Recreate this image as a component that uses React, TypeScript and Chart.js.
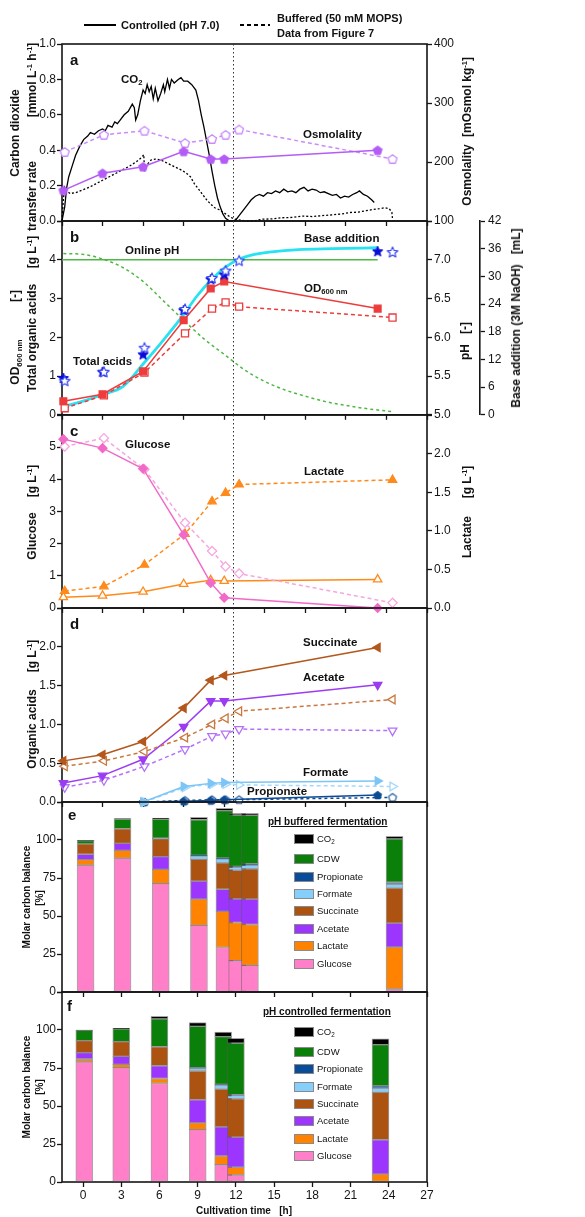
import React, { useEffect, useRef } from 'react';
import { Chart, registerables } from 'chart.js';

Chart.register(...registerables);

const FONT = '"Liberation Sans", Arial, Helvetica, sans-serif';
const INK = '#151515';

// ---- sampling times [h] ----
const T_CTRL = [0.1, 3, 6, 9, 11, 12, 23.35];
const T_BUF = [0.2, 3.1, 6.1, 9.1, 11.1, 12.1, 13.1, 24.45];
const MARK_T = 12.65;

// ---- tick values ----
const TIME_TICKS = [0, 3, 6, 9, 12, 15, 18, 21, 24, 27];
const CTR_TICKS = [0, 0.2, 0.4, 0.6, 0.8, 1.0];
const OSMO_TICKS = [100, 200, 300, 400];
const OD_TICKS = [0, 1, 2, 3, 4, 5];
const PH_TICKS = [5.0, 5.5, 6.0, 6.5, 7.0, 7.5];
const BASE_TICKS = [0, 6, 12, 18, 24, 30, 36, 42];
const GLC_TICKS = [0, 1, 2, 3, 4, 5, 6];
const LAC_TICKS = [0, 0.5, 1.0, 1.5, 2.0, 2.5];
const ACID_TICKS = [0, 0.5, 1.0, 1.5, 2.0, 2.5];
const BAL_TICKS = [0, 25, 50, 75, 100, 125];

// ---- (a) carbon dioxide transfer rate [mmol L-1 h-1] ----
const CO2_CTRL_T = [0, 0.2, 0.35, 0.5, 0.75, 1.0, 1.3, 1.6, 1.9, 2.1, 2.4, 2.7, 3.0, 3.2, 3.4, 3.7, 3.9, 4.1, 4.3, 4.6, 4.9, 5.2, 5.35, 5.45, 5.6, 5.8, 6.0, 6.15, 6.3, 6.45, 6.6, 6.75, 6.9, 7.1, 7.3, 7.5, 7.6, 7.8, 7.95, 8.1, 8.3, 8.6, 8.8, 9.0, 9.3, 9.6, 9.9, 10.1, 10.3, 10.5, 10.7, 10.9, 11.1, 11.3, 11.5, 11.7, 11.9, 12.1, 12.4, 12.7, 12.9, 13.1, 13.4, 13.7, 14.0, 14.3, 14.6, 14.9, 15.2, 15.5, 15.8, 16.1, 16.4, 16.7, 17.0, 17.3, 17.6, 17.9, 18.2, 18.5, 18.8, 19.1, 19.4, 19.7, 20.0, 20.3, 20.6, 20.9, 21.2, 21.5, 21.8, 22.0, 22.3, 22.6, 22.9, 23.1];
const CO2_CTRL = [0, 0.08, 0.19, 0.25, 0.31, 0.37, 0.42, 0.46, 0.48, 0.5, 0.49, 0.51, 0.52, 0.51, 0.54, 0.53, 0.56, 0.55, 0.57, 0.6, 0.62, 0.66, 0.64, 0.57, 0.6, 0.68, 0.74, 0.72, 0.77, 0.73, 0.76, 0.69, 0.75, 0.68, 0.72, 0.77, 0.73, 0.8, 0.75, 0.8, 0.78, 0.8, 0.81, 0.79, 0.79, 0.77, 0.74, 0.68, 0.6, 0.53, 0.45, 0.37, 0.28, 0.2, 0.13, 0.08, 0.04, 0.015, 0.0, 0.0, 0.01, 0.03, 0.06, 0.09, 0.12, 0.14, 0.15, 0.14, 0.16, 0.155, 0.17, 0.16, 0.18, 0.165, 0.17, 0.16, 0.18, 0.19, 0.17, 0.18, 0.175, 0.16, 0.165, 0.155, 0.145, 0.15, 0.13, 0.14, 0.135, 0.15, 0.16, 0.17, 0.15, 0.14, 0.12, 0.105];
const CO2_BUF_T = [0, 0.1, 0.2, 0.35, 0.6, 1.0, 1.5, 2.0, 2.5, 3.0, 3.5, 4.0, 4.5, 5.0, 5.5, 5.9, 6.05, 6.1, 6.3, 6.6, 6.9, 7.3, 7.7, 8.1, 8.5, 8.9, 9.2, 9.5, 9.8, 10.1, 10.4, 10.7, 11.0, 11.3, 11.6, 11.9, 12.2, 12.5, 12.8, 13.2, 13.6, 14.2, 14.8, 15.5, 16.2, 17.0, 17.8, 18.5, 19.2, 20.0, 20.7, 21.3, 21.9, 22.5, 23.0, 23.5, 23.9, 24.2, 24.4, 24.45];
const CO2_BUF = [0, 0.12, 0.19, 0.17, 0.155, 0.16, 0.175, 0.19, 0.21, 0.23, 0.25, 0.27, 0.29, 0.31, 0.335, 0.36, 0.375, 0.29, 0.32, 0.345, 0.35, 0.345, 0.33, 0.315, 0.3, 0.285, 0.27, 0.25, 0.21, 0.18, 0.15, 0.12, 0.095, 0.075, 0.065, 0.05, 0.035, 0.02, 0.01, 0.005, 0, 0, 0.01, 0.012, 0.018, 0.02, 0.028, 0.025, 0.03, 0.035, 0.04, 0.048, 0.05, 0.058, 0.065, 0.07, 0.075, 0.07, 0.05, 0.01];

// ---- (a) osmolality [mOsmol kg-1] ----
const OSMO_CTRL = [152, 181, 192, 218, 205, 205, 220];
const OSMO_BUF = [217, 246, 253, 232, 239, 246, 255, 205];

// ---- (b) OD600, total organic acids, base addition, pH ----
const OD_CTRL = [0.35, 0.53, 1.12, 2.44, 3.26, 3.44, 2.74];
const OD_BUF = [0.17, 0.5, 1.09, 2.1, 2.74, 2.9, 2.79, 2.51];
const ACIDS_CTRL = [0.95, 1.11, 1.56, 2.7, 3.5, 3.62, 4.22];
const ACIDS_BUF = [0.88, 1.11, 1.73, 2.73, 3.53, 3.72, 3.98, 4.2];
const BASE_T = [0.1, 1.5, 3, 4.5, 6, 7.5, 9, 10, 11, 12, 13, 14, 15.5, 17.5, 20, 23.35];
const BASE_ML = [1.8, 2.9, 4.4, 6.1, 11.0, 16.2, 21.7, 25.8, 29.1, 31.8, 33.6, 34.6, 35.3, 35.8, 36.0, 36.2];
const ONLINE_PH_T = [0, 23.35];
const ONLINE_PH = [7.0, 7.0];
const PH_BUF_T = [0.1, 1.5, 3, 4.5, 6, 7.5, 9, 10.5, 12, 13.5, 15, 16.5, 18, 19.5, 21, 22.5, 24.45];
const PH_BUF = [7.08, 7.07, 7.01, 6.9, 6.72, 6.47, 6.22, 5.98, 5.78, 5.58, 5.43, 5.32, 5.24, 5.17, 5.12, 5.08, 5.04];

// ---- (c) glucose and lactate [g L-1] ----
const GLC_CTRL = [5.25, 4.97, 4.33, 2.28, 0.78, 0.32, 0.0];
const GLC_BUF = [5.02, 5.28, 4.31, 2.65, 1.77, 1.29, 1.07, 0.16];
const LAC_CTRL = [0.14, 0.16, 0.21, 0.31, 0.36, 0.35, 0.37];
const LAC_BUF = [0.22, 0.28, 0.56, 0.96, 1.38, 1.49, 1.6, 1.66];

// ---- (d) organic acids [g L-1] ----
const SUC_CTRL = [0.53, 0.61, 0.78, 1.21, 1.57, 1.63, 1.99];
const SUC_BUF = [0.46, 0.53, 0.65, 0.83, 1.0, 1.08, 1.17, 1.32];
const ACE_CTRL = [0.245, 0.34, 0.55, 0.97, 1.3, 1.3, 1.51];
const ACE_BUF = [0.19, 0.28, 0.46, 0.68, 0.85, 0.88, 0.94, 0.92];
const FOR_CTRL = [null, null, 0.0, 0.2, 0.24, 0.25, 0.27];
const FOR_BUF = [null, null, 0.0, 0.19, 0.23, 0.23, 0.22, 0.2];
const PRO_CTRL = [null, null, 0.0, 0.01, 0.02, 0.03, 0.09];
const PRO_BUF = [null, null, 0.0, 0.02, 0.03, 0.03, 0.03, 0.06];

// ---- (e) molar carbon balance, pH buffered [%] ----
const BAL_BUF_GLUCOSE = [83.4, 88.0, 71.3, 43.8, 29.3, 20.6, 17.5, 2.0];
const BAL_BUF_LACTATE = [3.7, 5.2, 9.4, 17.3, 23.7, 25.1, 26.9, 27.5];
const BAL_BUF_ACETATE = [3.5, 4.6, 8.4, 11.8, 14.6, 15.6, 16.7, 15.8];
const BAL_BUF_SUCCINATE = [6.8, 9.6, 11.8, 14.4, 17.3, 18.8, 19.9, 23.0];
const BAL_BUF_FORMATE = [0, 0, 0.3, 2.2, 2.6, 2.0, 2.4, 2.6];
const BAL_BUF_PROPIONATE = [0, 0, 0, 0.4, 0.5, 0.6, 1.1, 1.3];
const BAL_BUF_CDW = [2.2, 6.4, 12.6, 23.4, 31.3, 33.7, 31.7, 28.5];
const BAL_BUF_CO2 = [0.2, 0.3, 0.6, 1.6, 1.5, 1.1, 1.3, 1.7];

// ---- (f) molar carbon balance, pH controlled [%] ----
const BAL_CTRL_GLUCOSE = [79.1, 75.2, 64.8, 34.5, 11.4, 4.6, 0];
const BAL_CTRL_LACTATE = [1.8, 2.2, 3.3, 4.4, 5.7, 5.1, 5.2];
const BAL_CTRL_ACETATE = [4.2, 5.2, 8.4, 15.2, 19.2, 19.8, 22.6];
const BAL_CTRL_SUCCINATE = [7.9, 9.7, 12.5, 18.9, 24.8, 25.2, 31.2];
const BAL_CTRL_FORMATE = [0, 0, 0, 1.7, 2.4, 2.2, 2.7];
const BAL_CTRL_PROPIONATE = [0, 0, 0, 0.5, 0.7, 0.5, 1.5];
const BAL_CTRL_CDW = [6.8, 8.4, 18.3, 27.2, 31.4, 34.0, 27.2];
const BAL_CTRL_CO2 = [0.2, 0.4, 1.7, 2.4, 3.1, 3.1, 3.8];

// ---- colours ----
const C_OSMO = '#b35cf6';
const C_OSMO_B = '#c98cfa';
const C_OD = '#ec3c3c';
const C_BASE = '#27e2f0';
const C_PH = '#4db843';
const C_STAR = '#0a0ad8';
const C_STAR_B = '#3040f2';
const C_GLC = '#f26ac7';
const C_GLC_B = '#f7a6de';
const C_LAC = '#ff8a1c';
const C_SUC = '#b3571c';
const C_SUC_B = '#c9783f';
const C_ACE = '#9b3cf2';
const C_ACE_B = '#b471f8';
const C_FOR = '#7cc5f6';
const C_FOR_B = '#a5d7fb';
const C_PRO = '#0d4a94';

const BAR_PARTS = [
  { key: 'Glucose', color: '#ff80c8' },
  { key: 'Lactate', color: '#ff8200' },
  { key: 'Acetate', color: '#9c36ff' },
  { key: 'Succinate', color: '#ad5311' },
  { key: 'Formate', color: '#86cffa' },
  { key: 'Propionate', color: '#0a4c98' },
  { key: 'CDW', color: '#0a7f0a' },
  { key: 'CO2', color: '#000000' },
];
const BAL_BUF = [BAL_BUF_GLUCOSE, BAL_BUF_LACTATE, BAL_BUF_ACETATE, BAL_BUF_SUCCINATE, BAL_BUF_FORMATE, BAL_BUF_PROPIONATE, BAL_BUF_CDW, BAL_BUF_CO2];
const BAL_CTRL = [BAL_CTRL_GLUCOSE, BAL_CTRL_LACTATE, BAL_CTRL_ACETATE, BAL_CTRL_SUCCINATE, BAL_CTRL_FORMATE, BAL_CTRL_PROPIONATE, BAL_CTRL_CDW, BAL_CTRL_CO2];

// ---- page geometry ----
const FIG_W = 585;
const FIG_H = 1217;
const PLOT_L = 62;
const PLOT_R = 427;
const RIGHT_W = FIG_W - PLOT_R;
const PAD_T = 12;
const BAR_X_MIN = -1.65;

const PANEL_A = { top: 44, bottom: 221, xh: 10 };
const PANEL_B = { top: 221, bottom: 415, xh: 10 };
const PANEL_C = { top: 415, bottom: 608, xh: 10 };
const PANEL_D = { top: 608, bottom: 802, xh: 10 };
const PANEL_E = { top: 802, bottom: 992, xh: 10 };
const PANEL_F = { top: 992, bottom: 1182, xh: 30 };

function canvasBox(p) {
  return { top: p.top - PAD_T, height: p.bottom - p.top + PAD_T + p.xh };
}

// ---- marker images ----
function polyMarker(kind, r, fill, stroke, lw) {
  const size = 2 * Math.ceil(r + lw + 1);
  const c = document.createElement('canvas');
  c.width = size;
  c.height = size;
  const g = c.getContext('2d');
  const cx = size / 2;
  const cy = size / 2;
  const n = kind === 'pentagon' ? 5 : 10;
  g.beginPath();
  for (let i = 0; i < n; i++) {
    const a = -Math.PI / 2 + (i * 2 * Math.PI) / n;
    const rr = kind === 'star' && i % 2 === 1 ? r * 0.45 : r;
    const px = cx + rr * Math.cos(a);
    const py = cy + rr * Math.sin(a) + (kind === 'pentagon' ? r * 0.1 : r * 0.08);
    if (i === 0) g.moveTo(px, py);
    else g.lineTo(px, py);
  }
  g.closePath();
  g.fillStyle = fill;
  g.fill();
  g.lineJoin = 'round';
  g.lineWidth = lw;
  g.strokeStyle = stroke;
  g.stroke();
  return c;
}

// ---- dataset helpers ----
function lineDs(ts, vs, o) {
  const data = [];
  ts.forEach((t, i) => {
    const v = vs[i];
    if (v !== null && v !== undefined) data.push({ x: t, y: v });
  });
  return {
    data,
    yAxisID: o.axis || 'y',
    borderColor: o.color,
    borderWidth: o.width ?? 1.5,
    borderDash: o.dash || [],
    pointStyle: o.marker || 'circle',
    pointRadius: o.radius ?? 0,
    pointRotation: o.rot ?? 0,
    pointBackgroundColor: o.fill ?? o.color,
    pointBorderColor: o.stroke ?? o.color,
    pointBorderWidth: o.pw ?? 1.3,
    fill: false,
    tension: 0,
    cubicInterpolationMode: o.smooth ? 'monotone' : 'default',
    clip: false,
    spanGaps: true,
  };
}

function barDatasets(times, parts) {
  // later sampling times first so that their bars are painted over earlier ones
  const sets = [];
  for (let i = times.length - 1; i >= 0; i--) {
    BAR_PARTS.forEach((p, k) => {
      const v = parts[k][i];
      sets.push({
        data: v > 0 ? [{ x: times[i], y: v }] : [],
        backgroundColor: p.color,
        borderColor: 'rgba(90,90,90,0.55)',
        borderWidth: 1,
        borderSkipped: false,
        barThickness: 17,
        grouped: false,
      });
    });
  }
  return sets;
}

// ---- axis helpers ----
function yAxis(o) {
  return {
    type: 'linear',
    position: o.position,
    min: o.min,
    max: o.max,
    weight: o.weight || 0,
    afterBuildTicks: (s) => {
      s.ticks = o.ticks.map((v) => ({ value: v }));
    },
    afterFit: (s) => {
      s.width = o.width;
    },
    ticks: {
      font: { family: FONT, size: 12 },
      color: INK,
      padding: o.pad ?? 1,
      callback: (v) => ((o.hide || []).includes(v) ? '' : o.fmt(v)),
    },
    grid: { display: true, drawOnChartArea: false, drawTicks: true, tickLength: 5, tickWidth: 1.3, tickColor: INK },
    border: { display: !!o.border, color: INK, width: 1.6 },
  };
}

function xAxis(min, max, labels, height) {
  return {
    type: 'linear',
    position: 'bottom',
    min,
    max,
    offset: false,
    afterBuildTicks: (s) => {
      s.ticks = TIME_TICKS.map((v) => ({ value: v }));
    },
    afterFit: (s) => {
      s.height = height;
    },
    ticks: {
      display: labels,
      autoSkip: false,
      maxRotation: 0,
      font: { family: FONT, size: 12 },
      color: INK,
      padding: 1,
      callback: (v) => String(v),
    },
    grid: { display: true, offset: false, drawOnChartArea: false, drawTicks: true, tickLength: 5, tickWidth: 1.3, tickColor: INK },
    border: { display: false },
  };
}

const framePlugin = {
  id: 'panelFrame',
  beforeDatasetsDraw(chart, _args, opts) {
    const { ctx, chartArea: a } = chart;
    ctx.save();
    ctx.strokeStyle = INK;
    ctx.lineWidth = 1.6;
    ctx.strokeRect(a.left, a.top, a.right - a.left, a.bottom - a.top);
    if (opts && typeof opts.markT === 'number') {
      const x = Math.round(chart.scales.x.getPixelForValue(opts.markT)) + 0.5;
      ctx.strokeStyle = '#333';
      ctx.lineWidth = 1;
      ctx.setLineDash([1.5, 2.5]);
      ctx.beginPath();
      ctx.moveTo(x, a.top);
      ctx.lineTo(x, a.bottom);
      ctx.stroke();
    }
    ctx.restore();
  },
};

function makeChart(canvas, type, datasets, scales, rightPad, markT) {
  return new Chart(canvas, {
    type,
    data: { datasets },
    options: {
      responsive: false,
      maintainAspectRatio: false,
      animation: false,
      events: [],
      layout: { padding: { top: PAD_T, left: 0, right: rightPad, bottom: 0 } },
      scales,
      plugins: {
        legend: { display: false },
        tooltip: { enabled: false },
        panelFrame: { markT },
      },
    },
    plugins: [framePlugin],
  });
}

const fmt1 = (v) => v.toFixed(1);
const fmt0 = (v) => String(Math.round(v));

// ---- text helpers ----
function Label({ x, y, size = 11.5, bold = true, rotate = false, center = false, underline = false, children }) {
  const style = {
    position: 'absolute',
    left: x,
    top: y,
    fontFamily: FONT,
    fontSize: size,
    fontWeight: bold ? 700 : 400,
    lineHeight: 1,
    whiteSpace: 'nowrap',
    color: '#111',
    textDecoration: underline ? 'underline' : 'none',
    transform: rotate ? 'translate(-50%, -50%) rotate(-90deg)' : center ? 'translate(-50%, -50%)' : 'translateY(-50%)',
  };
  return <div style={style}>{children}</div>;
}
const Sup = ({ children }) => <span style={{ fontSize: '0.62em', position: 'relative', top: '-0.55em' }}>{children}</span>;
const Sub = ({ children }) => <span style={{ fontSize: '0.66em', position: 'relative', top: '0.32em' }}>{children}</span>;

const E_LEGEND_Y = [839, 859, 876.5, 893.5, 911, 928.5, 946, 963.5];
const F_LEGEND_Y = [1031.5, 1051.5, 1069, 1086.5, 1104, 1121, 1138.5, 1156];

function BarLegend({ rows, titleX, titleY, title }) {
  const ordered = [...BAR_PARTS].reverse();
  return (
    <>
      <Label x={titleX} y={titleY} size={10} underline>
        {title}
      </Label>
      {ordered.map((p, i) => (
        <React.Fragment key={p.key}>
          <div
            style={{
              position: 'absolute',
              left: 294,
              top: rows[i] - 5,
              width: 20,
              height: 10,
              background: p.color,
              border: '1px solid #8a8a8a',
              boxSizing: 'border-box',
            }}
          />
          <Label x={317} y={rows[i]} size={9.5} bold={false}>
            {p.key === 'CO2' ? (
              <>
                CO<Sub>2</Sub>
              </>
            ) : (
              p.key
            )}
          </Label>
        </React.Fragment>
      ))}
    </>
  );
}

function PanelCanvas({ panel, cref }) {
  const b = canvasBox(panel);
  return (
    <canvas
      ref={cref}
      width={FIG_W}
      height={b.height}
      style={{ position: 'absolute', left: 0, top: b.top, width: FIG_W, height: b.height }}
    />
  );
}

export default function App() {
  const refA = useRef(null);
  const refB = useRef(null);
  const refC = useRef(null);
  const refD = useRef(null);
  const refE = useRef(null);
  const refF = useRef(null);

  useEffect(() => {
    const pentFill = polyMarker('pentagon', 4.5, C_OSMO, C_OSMO, 1.2);
    const pentOpen = polyMarker('pentagon', 4.7, '#ffffff', C_OSMO_B, 1.3);
    const starFill = polyMarker('star', 5.4, C_STAR, C_STAR, 1);
    const starOpen = polyMarker('star', 5.6, '#ffffff', C_STAR_B, 1.1);
    const proFill = polyMarker('pentagon', 4.0, C_PRO, C_PRO, 1.1);
    const proOpen = polyMarker('pentagon', 4.2, '#ffffff', C_PRO, 1.1);

    const charts = [];

    // (a) CO2 transfer rate and osmolality
    charts.push(
      makeChart(
        refA.current,
        'line',
        [
          lineDs(T_CTRL, OSMO_CTRL, { axis: 'yOsm', color: C_OSMO, marker: pentFill, radius: 5 }),
          lineDs(T_BUF, OSMO_BUF, { axis: 'yOsm', color: C_OSMO_B, dash: [4, 3], marker: pentOpen, radius: 5 }),
          lineDs(CO2_CTRL_T, CO2_CTRL, { color: '#000', width: 1.3 }),
          lineDs(CO2_BUF_T, CO2_BUF, { color: '#000', width: 1.3, dash: [2, 2] }),
        ],
        {
          x: xAxis(0, 27, false, PANEL_A.xh),
          y: yAxis({ position: 'left', min: 0, max: 1, ticks: CTR_TICKS, fmt: fmt1, width: PLOT_L }),
          yOsm: yAxis({ position: 'right', min: 100, max: 400, ticks: OSMO_TICKS, fmt: fmt0, width: RIGHT_W, pad: 2 }),
        },
        0,
        MARK_T
      )
    );

    // (b) OD600, total acids, base addition, pH
    charts.push(
      makeChart(
        refB.current,
        'line',
        [
          lineDs(T_BUF, ACIDS_BUF, { color: 'rgba(0,0,0,0)', width: 0, marker: starOpen, radius: 6 }),
          lineDs(T_CTRL, ACIDS_CTRL, { color: 'rgba(0,0,0,0)', width: 0, marker: starFill, radius: 6 }),
          lineDs(T_CTRL, OD_CTRL, { color: C_OD, marker: 'rect', radius: 4.8 }),
          lineDs(T_BUF, OD_BUF, { color: C_OD, dash: [4, 3], marker: 'rect', radius: 5, fill: '#ffffff' }),
          lineDs(BASE_T, BASE_ML, { axis: 'yBase', color: C_BASE, width: 2.8, smooth: true }),
          lineDs(ONLINE_PH_T, ONLINE_PH, { axis: 'yPh', color: C_PH, width: 1.5 }),
          lineDs(PH_BUF_T, PH_BUF, { axis: 'yPh', color: C_PH, width: 1.5, dash: [3, 3], smooth: true }),
        ],
        {
          x: xAxis(0, 27, false, PANEL_B.xh),
          y: yAxis({ position: 'left', min: 0, max: 5, ticks: OD_TICKS, fmt: fmt0, hide: [5], width: PLOT_L }),
          yPh: yAxis({ position: 'right', min: 5, max: 7.5, ticks: PH_TICKS, fmt: fmt1, hide: [7.5], width: 53, pad: 2, weight: 0 }),
          yBase: yAxis({ position: 'right', min: 0, max: 42, ticks: BASE_TICKS, fmt: fmt0, width: RIGHT_W - 53, pad: 3, border: true, weight: 1 }),
        },
        0,
        MARK_T
      )
    );

    // (c) glucose and lactate
    charts.push(
      makeChart(
        refC.current,
        'line',
        [
          lineDs(T_CTRL, GLC_CTRL, { color: C_GLC, marker: 'rectRot', radius: 4.4 }),
          lineDs(T_BUF, GLC_BUF, { color: C_GLC_B, dash: [4, 3], marker: 'rectRot', radius: 4.6, fill: '#ffffff' }),
          lineDs(T_BUF, LAC_BUF, { axis: 'yLac', color: C_LAC, dash: [4, 3], marker: 'triangle', radius: 4.8 }),
          lineDs(T_CTRL, LAC_CTRL, { axis: 'yLac', color: C_LAC, marker: 'triangle', radius: 4.8, fill: '#ffffff' }),
        ],
        {
          x: xAxis(0, 27, false, PANEL_C.xh),
          y: yAxis({ position: 'left', min: 0, max: 6, ticks: GLC_TICKS, fmt: fmt0, hide: [6], width: PLOT_L }),
          yLac: yAxis({ position: 'right', min: 0, max: 2.5, ticks: LAC_TICKS, fmt: fmt1, hide: [2.5], width: RIGHT_W, pad: 2 }),
        },
        0,
        MARK_T
      )
    );

    // (d) organic acids
    charts.push(
      makeChart(
        refD.current,
        'line',
        [
          lineDs(T_CTRL, SUC_CTRL, { color: C_SUC, marker: 'triangle', rot: 270, radius: 4.8 }),
          lineDs(T_BUF, SUC_BUF, { color: C_SUC_B, dash: [4, 3], marker: 'triangle', rot: 270, radius: 5, fill: '#ffffff' }),
          lineDs(T_CTRL, ACE_CTRL, { color: C_ACE, marker: 'triangle', rot: 180, radius: 4.8 }),
          lineDs(T_BUF, ACE_BUF, { color: C_ACE_B, dash: [4, 3], marker: 'triangle', rot: 180, radius: 5, fill: '#ffffff' }),
          lineDs(T_CTRL, FOR_CTRL, { color: C_FOR, marker: 'triangle', rot: 90, radius: 4.8 }),
          lineDs(T_BUF, FOR_BUF, { color: C_FOR_B, dash: [4, 3], marker: 'triangle', rot: 90, radius: 5, fill: '#ffffff' }),
          lineDs(T_CTRL, PRO_CTRL, { color: C_PRO, marker: proFill, radius: 4.5 }),
          lineDs(T_BUF, PRO_BUF, { color: C_PRO, dash: [3, 3], marker: proOpen, radius: 4.5 }),
        ],
        {
          x: xAxis(0, 27, false, PANEL_D.xh),
          y: yAxis({ position: 'left', min: 0, max: 2.5, ticks: ACID_TICKS, fmt: fmt1, hide: [2.5], width: PLOT_L }),
        },
        RIGHT_W,
        MARK_T
      )
    );

    // (e) carbon balance, buffered
    charts.push(
      makeChart(
        refE.current,
        'bar',
        barDatasets(T_BUF, BAL_BUF),
        {
          x: xAxis(BAR_X_MIN, 27, false, PANEL_E.xh),
          y: { ...yAxis({ position: 'left', min: 0, max: 125, ticks: BAL_TICKS, fmt: fmt0, hide: [125], width: PLOT_L }), stacked: true },
        },
        RIGHT_W,
        null
      )
    );

    // (f) carbon balance, controlled
    charts.push(
      makeChart(
        refF.current,
        'bar',
        barDatasets(T_CTRL, BAL_CTRL),
        {
          x: xAxis(BAR_X_MIN, 27, true, PANEL_F.xh),
          y: { ...yAxis({ position: 'left', min: 0, max: 125, ticks: BAL_TICKS, fmt: fmt0, hide: [125], width: PLOT_L }), stacked: true },
        },
        RIGHT_W,
        null
      )
    );

    return () => charts.forEach((c) => c.destroy());
  }, []);

  const gL = (
    <>
      g L<Sup>-1</Sup>
    </>
  );

  return (
    <div
      style={{
        position: 'absolute',
        left: 0,
        top: 0,
        width: FIG_W,
        height: FIG_H,
        background: '#ffffff',
        overflow: 'hidden',
      }}
    >
      <PanelCanvas panel={PANEL_A} cref={refA} />
      <PanelCanvas panel={PANEL_B} cref={refB} />
      <PanelCanvas panel={PANEL_C} cref={refC} />
      <PanelCanvas panel={PANEL_D} cref={refD} />
      <PanelCanvas panel={PANEL_E} cref={refE} />
      <PanelCanvas panel={PANEL_F} cref={refF} />

      {/* series key */}
      <svg style={{ position: 'absolute', left: 0, top: 0 }} width={FIG_W} height={44}>
        <line x1={84} y1={25} x2={116} y2={25} stroke="#000" strokeWidth={2} />
        <line x1={240} y1={25} x2={270} y2={25} stroke="#000" strokeWidth={2} strokeDasharray="4 3" />
      </svg>
      <Label x={121} y={25} size={11}>Controlled (pH 7.0)</Label>
      <Label x={277} y={17.5} size={11}>Buffered (50 mM MOPS)</Label>
      <Label x={277} y={33} size={11}>Data from Figure 7</Label>

      {/* panel letters */}
      <Label x={70} y={59} size={15}>a</Label>
      <Label x={70} y={236} size={15}>b</Label>
      <Label x={70} y={430} size={15}>c</Label>
      <Label x={70} y={623} size={15}>d</Label>
      <Label x={68} y={814} size={15}>e</Label>
      <Label x={67} y={1005} size={15}>f</Label>

      {/* in-plot annotations */}
      <Label x={121} y={80}>
        CO<Sub>2</Sub>
      </Label>
      <Label x={303} y={135}>Osmolality</Label>
      <Label x={125} y={251}>Online pH</Label>
      <Label x={304} y={239}>Base addition</Label>
      <Label x={304} y={289}>
        OD<Sub>600 nm</Sub>
      </Label>
      <Label x={73} y={362}>Total acids</Label>
      <Label x={125} y={445}>Glucose</Label>
      <Label x={304} y={472}>Lactate</Label>
      <Label x={303} y={643}>Succinate</Label>
      <Label x={303} y={678}>Acetate</Label>
      <Label x={303} y={773}>Formate</Label>
      <Label x={247} y={792}>Propionate</Label>

      {/* axis titles */}
      <Label x={15} y={133} size={12} rotate>Carbon dioxide</Label>
      <Label x={32} y={196} size={12} rotate>transfer rate</Label>
      <Label x={32} y={80} size={12} rotate>
        [mmol L<Sup>-1</Sup> h<Sup>-1</Sup>]
      </Label>
      <Label x={467} y={175} size={12} rotate>Osmolality</Label>
      <Label x={467} y={97} size={12} rotate>
        [mOsmol kg<Sup>-1</Sup>]
      </Label>

      <Label x={15} y={362} size={12} rotate>
        OD<Sub>600 nm</Sub>
      </Label>
      <Label x={15} y={296} size={12} rotate>[-]</Label>
      <Label x={32} y={338} size={12} rotate>Total organic acids</Label>
      <Label x={32} y={252} size={12} rotate>[{gL}]</Label>
      <Label x={465} y={341} size={12} rotate>
        pH{'\u00a0\u00a0\u00a0'}[-]
      </Label>
      <Label x={516} y={318} size={12} rotate>
        Base addition (3M NaOH){'\u00a0\u00a0\u00a0'}[mL]
      </Label>

      <Label x={32} y={536} size={12} rotate>Glucose</Label>
      <Label x={32} y={481} size={12} rotate>[{gL}]</Label>
      <Label x={467} y={537} size={12} rotate>Lactate</Label>
      <Label x={467} y={482} size={12} rotate>[{gL}]</Label>

      <Label x={32} y={729} size={12} rotate>Organic acids</Label>
      <Label x={32} y={656} size={12} rotate>[{gL}]</Label>

      <Label x={27} y={897} size={10} rotate>Molar carbon balance</Label>
      <Label x={40} y={898} size={10} rotate>[%]</Label>
      <Label x={27} y={1087} size={10} rotate>Molar carbon balance</Label>
      <Label x={40} y={1087} size={10} rotate>[%]</Label>

      <Label x={244} y={1211} size={10} center>
        Cultivation time{'\u00a0\u00a0\u00a0'}[h]
      </Label>

      {/* carbon balance keys */}
      <BarLegend rows={E_LEGEND_Y} titleX={268} titleY={822} title="pH buffered fermentation" />
      <BarLegend rows={F_LEGEND_Y} titleX={263} titleY={1012} title="pH controlled fermentation" />
    </div>
  );
}
